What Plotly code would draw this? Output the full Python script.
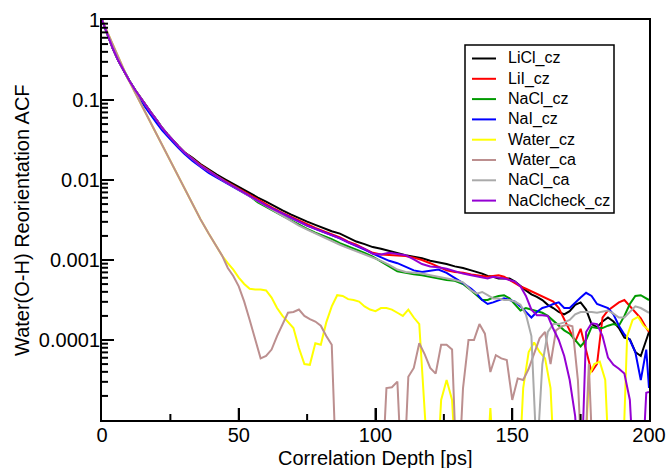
import plotly.graph_objects as go

# ---- time axes (ps) ----
time_ps = [0, 2, 4, 6, 8, 10, 12, 14, 16, 18, 20, 22, 24, 26, 28, 30,
           33, 36, 39, 42, 45, 48, 51, 54, 57, 60,
           63, 66, 69, 72, 75, 78, 81, 84, 87, 90,
           93, 96, 99, 102, 105, 108, 111, 114, 117, 120,
           123, 126, 129, 132, 135,
           137, 139, 141, 143, 145, 147, 149, 151, 153, 155,
           157, 159, 161, 163, 165, 167, 169, 171, 173, 175,
           177, 179, 181, 183, 185, 187, 189, 191, 193, 195,
           197, 199, 200]

water_time_ps = [0, 3, 6, 9, 12, 15, 18, 21, 24, 27, 30, 33, 36, 39, 42,
                 44, 46, 48, 50, 52, 54, 56, 58, 60, 62,
                 64, 66, 68, 70, 72, 74, 76, 78, 80, 82,
                 84, 86, 88, 90, 92, 94, 96, 98, 100, 102,
                 104, 106, 108, 110, 112, 114, 116, 118, 120, 122,
                 124, 126, 128, 130, 132, 134, 136, 138, 140, 142,
                 144, 146, 148, 150, 152, 154, 156, 158, 160, 162,
                 164, 166, 168, 170, 172, 174, 176, 178, 180, 182,
                 184, 186, 188, 190, 192, 194, 196, 198, 200]

# ---- ACF values (values < 1e-5 lie below the plotted range) ----
licl_cz = [1.0, 0.646, 0.437, 0.309, 0.229, 0.174, 0.135, 0.107, 0.0851, 0.0692, 0.0562, 0.0447, 0.0372, 0.0309, 0.0263, 0.0224,
           1.91e-2, 1.58e-2, 1.35e-2, 1.17e-2, 1.02e-2, 8.91e-3, 7.76e-3, 6.92e-3, 6.03e-3, 5.37e-3,
           4.68e-3, 4.17e-3, 3.72e-3, 3.39e-3, 3.02e-3, 2.75e-3, 2.51e-3, 2.29e-3, 2.14e-3, 1.91e-3,
           1.70e-3, 1.58e-3, 1.45e-3, 1.38e-3, 1.29e-3, 1.23e-3, 1.15e-3, 1.10e-3, 1.05e-3, 9.77e-4,
           9.33e-4, 8.91e-4, 8.32e-4, 7.94e-4, 7.41e-4,
           7.08e-4, 6.76e-4, 6.31e-4, 6.17e-4, 5.89e-4, 5.89e-4, 5.89e-4, 5.37e-4, 4.68e-4, 4.17e-4,
           3.72e-4, 3.47e-4, 3.16e-4, 2.75e-4, 2.51e-4, 2.24e-4, 2.09e-4, 2.29e-4, 2.75e-4, 2.95e-4,
           2.40e-4, 1.58e-4, 1.45e-4, 1.70e-4, 1.91e-4, 1.70e-4, 1.41e-4, 1.07e-4, 1.02e-4, 7.08e-5,
           6.31e-5, 1.05e-4, 1.26e-4]

lii_cz = [1.0, 0.646, 0.437, 0.309, 0.229, 0.174, 0.135, 0.107, 0.0851, 0.0692, 0.0562, 0.0447, 0.0372, 0.0309, 0.0263, 0.0224,
          1.86e-2, 1.55e-2, 1.32e-2, 1.12e-2, 9.77e-3, 8.51e-3, 7.41e-3, 6.46e-3, 5.62e-3, 4.90e-3,
          4.37e-3, 3.89e-3, 3.47e-3, 3.09e-3, 2.75e-3, 2.51e-3, 2.29e-3, 2.09e-3, 1.91e-3, 1.70e-3,
          1.55e-3, 1.38e-3, 1.23e-3, 1.17e-3, 1.15e-3, 1.15e-3, 1.12e-3, 1.07e-3, 1.00e-3, 9.12e-4,
          8.13e-4, 7.41e-4, 7.08e-4, 6.92e-4, 6.61e-4,
          6.46e-4, 6.31e-4, 6.17e-4, 6.31e-4, 6.46e-4, 6.17e-4, 5.62e-4, 5.25e-4, 4.68e-4, 4.37e-4,
          4.07e-4, 3.80e-4, 3.55e-4, 3.31e-4, 3.02e-4, 2.51e-4, 1.82e-4, 1.26e-4, 9.55e-5, 1.38e-4,
          7.59e-5, 3.98e-5, 5.01e-5, 1.91e-4, 2.34e-4, 2.63e-4, 2.95e-4, 3.16e-4, 2.63e-4, 2.24e-4,
          1.86e-4, 1.41e-4, 1.26e-4]

nacl_cz = [1.0, 0.646, 0.437, 0.309, 0.229, 0.174, 0.135, 0.107, 0.0851, 0.0692, 0.0562, 0.0447, 0.0372, 0.0309, 0.0263, 0.0224,
           1.82e-2, 1.51e-2, 1.29e-2, 1.10e-2, 9.55e-3, 8.32e-3, 7.24e-3, 6.31e-3, 5.25e-3, 4.57e-3,
           3.98e-3, 3.55e-3, 3.16e-3, 2.75e-3, 2.45e-3, 2.19e-3, 2.00e-3, 1.82e-3, 1.62e-3, 1.48e-3,
           1.35e-3, 1.23e-3, 1.10e-3, 9.55e-4, 8.32e-4, 7.24e-4, 6.92e-4, 6.61e-4, 6.46e-4, 6.17e-4,
           5.89e-4, 5.62e-4, 5.50e-4, 5.01e-4, 4.17e-4,
           3.63e-4, 3.16e-4, 3.16e-4, 3.39e-4, 3.55e-4, 3.63e-4, 3.31e-4, 2.75e-4, 2.34e-4, 2.51e-4,
           2.40e-4, 2.34e-4, 2.19e-4, 2.00e-4, 1.74e-4, 1.51e-4, 1.32e-4, 1.20e-4, 1.00e-4, 8.32e-5,
           1.00e-4, 1.45e-4, 1.41e-4, 1.41e-4, 1.51e-4, 1.58e-4, 1.51e-4, 2.00e-4, 2.82e-4, 3.55e-4,
           3.63e-4, 3.31e-4, 3.16e-4]

nai_cz = [1.0, 0.646, 0.437, 0.309, 0.229, 0.174, 0.135, 0.100, 0.0794, 0.0631, 0.0513, 0.0417, 0.0347, 0.0295, 0.0251, 0.0214,
          1.74e-2, 1.45e-2, 1.23e-2, 1.07e-2, 9.33e-3, 8.32e-3, 7.24e-3, 6.31e-3, 5.50e-3, 4.79e-3,
          4.27e-3, 3.80e-3, 3.39e-3, 3.02e-3, 2.69e-3, 2.45e-3, 2.24e-3, 2.04e-3, 1.86e-3, 1.66e-3,
          1.51e-3, 1.35e-3, 1.20e-3, 1.07e-3, 9.77e-4, 9.12e-4, 8.13e-4, 7.41e-4, 7.08e-4, 7.41e-4,
          7.59e-4, 6.92e-4, 6.03e-4, 5.13e-4, 4.37e-4,
          3.80e-4, 3.16e-4, 2.82e-4, 2.95e-4, 3.16e-4, 3.31e-4, 3.16e-4, 3.02e-4, 2.63e-4, 2.24e-4,
          1.91e-4, 2.24e-4, 2.51e-4, 2.63e-4, 2.82e-4, 2.95e-4, 2.51e-4, 2.51e-4, 2.95e-4, 3.39e-4,
          3.89e-4, 3.55e-4, 2.82e-4, 2.63e-4, 2.51e-4, 2.09e-4, 1.51e-4, 1.17e-4, 1.00e-4, 7.08e-5,
          3.16e-5, 7.59e-5, 2.51e-5]

nacl_ca = [1.0, 0.646, 0.437, 0.309, 0.229, 0.174, 0.135, 0.107, 0.0851, 0.0692, 0.0562, 0.0447, 0.0372, 0.0309, 0.0263, 0.0224,
           1.82e-2, 1.51e-2, 1.29e-2, 1.10e-2, 9.55e-3, 8.32e-3, 7.24e-3, 6.31e-3, 5.50e-3, 4.79e-3,
           4.17e-3, 3.55e-3, 3.09e-3, 2.69e-3, 2.40e-3, 2.14e-3, 1.91e-3, 1.70e-3, 1.55e-3, 1.41e-3,
           1.29e-3, 1.17e-3, 1.07e-3, 9.77e-4, 8.71e-4, 7.59e-4, 7.08e-4, 6.92e-4, 6.76e-4, 6.46e-4,
           6.17e-4, 5.89e-4, 5.62e-4, 5.25e-4, 4.17e-4,
           3.80e-4, 3.98e-4, 3.63e-4, 3.31e-4, 3.31e-4, 3.16e-4, 3.16e-4, 3.02e-4, 2.75e-4, 2.09e-4,
           1.12e-4, 3.16e-6, 5.01e-5, 1.26e-4, 1.58e-4, 1.58e-4, 1.66e-4, 1.78e-4, 2.09e-4, 2.24e-4,
           2.24e-4, 2.24e-4, 2.19e-4, 2.24e-4, 2.34e-4, 2.14e-4, 1.91e-4, 1.91e-4, 2.24e-4, 2.63e-4,
           2.51e-4, 2.29e-4, 2.19e-4]

naclcheck_cz = [1.0, 0.646, 0.437, 0.309, 0.229, 0.174, 0.135, 0.107, 0.0851, 0.0692, 0.0562, 0.0447, 0.0372, 0.0309, 0.0263, 0.0224,
                1.82e-2, 1.51e-2, 1.29e-2, 1.10e-2, 9.55e-3, 8.32e-3, 7.24e-3, 6.31e-3, 5.50e-3, 4.79e-3,
                4.27e-3, 3.80e-3, 3.39e-3, 3.02e-3, 2.69e-3, 2.45e-3, 2.24e-3, 2.04e-3, 1.86e-3, 1.66e-3,
                1.51e-3, 1.38e-3, 1.20e-3, 1.17e-3, 1.23e-3, 1.20e-3, 1.15e-3, 1.02e-3, 8.91e-4, 8.32e-4,
                8.13e-4, 7.76e-4, 7.24e-4, 6.76e-4, 6.46e-4,
                6.31e-4, 6.03e-4, 5.89e-4, 6.17e-4, 6.03e-4, 5.89e-4, 5.62e-4, 5.37e-4, 4.68e-4, 3.55e-4,
                2.40e-4, 2.04e-4, 2.04e-4, 2.00e-4, 1.38e-4, 1.00e-4, 6.31e-5, 3.16e-5, 1.12e-5, 1.0e-6,
                1.26e-4, 1.62e-4, 1.58e-4, 1.12e-4, 6.03e-5, 4.90e-5, 4.37e-5, 3.80e-5, 1.78e-5, 1.0e-6,
                1.0e-6, 2.19e-5, 2.24e-5]

water_cz = [1.0, 0.575, 0.331, 0.200, 0.126, 0.0794, 0.0501, 0.0316, 0.0200, 0.0126, 0.00794, 0.00501, 0.00324, 0.00214, 0.00145,
            1.12e-3, 9.12e-4, 7.59e-4, 6.03e-4, 5.01e-4, 4.37e-4, 4.27e-4, 4.27e-4, 4.17e-4, 3.39e-4,
            2.51e-4, 2.00e-4, 1.66e-4, 1.41e-4, 7.94e-5, 5.01e-5, 4.90e-5, 9.12e-5, 8.71e-5, 1.66e-4,
            2.63e-4, 3.63e-4, 3.55e-4, 3.24e-4, 3.16e-4, 3.02e-4, 2.63e-4, 2.40e-4, 2.29e-4, 2.51e-4,
            2.51e-4, 2.40e-4, 2.19e-4, 2.00e-4, 2.40e-4, 1.91e-4, 1.58e-4, 1.58e-5, 1.0e-6, 1.0e-6,
            1.78e-5, 3.16e-5, 1.78e-5, 1.0e-6, 1.0e-6, 1.0e-6, 1.0e-6, 1.0e-6, 1.0e-6, 1.41e-5,
            1.0e-6, 1.0e-6, 1.0e-6, 1.0e-6, 1.0e-6, 2.51e-5, 7.08e-5, 9.33e-5, 7.08e-5, 5.89e-5,
            2.51e-5, 1.0e-6, 1.0e-6, 1.0e-6, 1.0e-6, 1.0e-6, 1.0e-6, 3.55e-5, 5.01e-5, 5.37e-5,
            3.16e-5, 1.0e-6, 1.0e-6, 1.0e-6, 1.12e-4, 1.78e-4, 1.95e-4, 1.51e-4, 1.32e-4]

water_ca = [1.0, 0.575, 0.331, 0.200, 0.126, 0.0794, 0.0501, 0.0316, 0.0200, 0.0126, 0.00794, 0.00501, 0.00324, 0.00214, 0.00145,
            1.12e-3, 7.94e-4, 6.31e-4, 4.68e-4, 3.02e-4, 1.78e-4, 1.05e-4, 5.89e-5, 6.31e-5, 7.59e-5,
            1.12e-4, 1.58e-4, 2.19e-4, 2.24e-4, 2.40e-4, 2.00e-4, 1.82e-4, 1.70e-4, 1.51e-4, 1.12e-4,
            8.71e-5, 1.0e-6, 1.0e-6, 1.0e-6, 1.0e-6, 1.0e-6, 1.0e-6, 1.0e-6, 1.0e-6, 1.0e-6,
            2.51e-5, 2.57e-5, 3.02e-5, 1.0e-6, 3.47e-5, 4.47e-5, 9.12e-5, 6.61e-5, 4.47e-5, 3.80e-5,
            8.71e-5, 8.71e-5, 7.59e-5, 1.0e-6, 2.51e-5, 1.00e-4, 1.00e-4, 1.58e-4, 1.20e-4, 3.98e-5,
            6.46e-5, 5.89e-5, 5.62e-5, 1.78e-5, 3.31e-5, 3.16e-5, 4.37e-5, 6.61e-5, 1.05e-4, 1.26e-4,
            5.01e-5, 1.32e-4, 1.48e-4, 1.55e-4, 1.48e-4, 3.16e-5, 1.0e-6, 5.01e-5, 1.0e-6, 1.0e-6,
            1.0e-6, 1.0e-6, 1.0e-6, 1.0e-6, 1.0e-6, 1.0e-6, 1.0e-6, 1.0e-6, 1.0e-6]

series_names = ["LiCl_cz", "LiI_cz", "NaCl_cz", "NaI_cz", "Water_cz", "Water_ca", "NaCl_ca", "NaClcheck_cz"]
series_x = [time_ps, time_ps, time_ps, time_ps, water_time_ps, water_time_ps, time_ps, time_ps]
series_y = [licl_cz, lii_cz, nacl_cz, nai_cz, water_cz, water_ca, nacl_ca, naclcheck_cz]
series_colors = ["#000000", "#ff0000", "#009a00", "#0000ff", "#ffff00", "#bc8f8f", "#aaaaaa", "#9400d3"]

x_ticks = [0, 50, 100, 150, 200]
x_minor_ticks = [25, 75, 125, 175]
y_ticks = [1, 0.1, 0.01, 0.001, 0.0001]
y_tick_text = ["1", "0.1", "0.01", "0.001", "0.0001"]
Y_LOG_MIN, Y_LOG_MAX = -5, 0
X_MIN, X_MAX = 0, 200

FONT = "Liberation Sans, Arial, Helvetica, sans-serif"

# plot-area geometry in pixels
W, H = 670, 468
ML, MR, MT, MB = 102, 21, 20, 48
PW, PH = W - ML - MR, H - MT - MB


def px_x(px):
    return (px - ML) / PW


def px_y(py):
    return 1 - (py - MT) / PH


fig = go.Figure()
for name, x, y, color in zip(series_names, series_x, series_y, series_colors):
    fig.add_trace(go.Scatter(x=x, y=y, name=name, mode="lines", showlegend=False,
                             line=dict(color=color, width=2)))

# inward tick marks (major 12 px, minor 6 px) drawn through the axes' scales
y_bottom = 10.0 ** Y_LOG_MIN
decade_px = PH / (Y_LOG_MAX - Y_LOG_MIN)
x_per_px = (X_MAX - X_MIN) / PW
tick_x, tick_y = [], []
for v in x_ticks[1:-1]:
    tick_x += [v, v, None]
    tick_y += [y_bottom, y_bottom * 10.0 ** (12 / decade_px), None]
for v in x_minor_ticks:
    tick_x += [v, v, None]
    tick_y += [y_bottom, y_bottom * 10.0 ** (6 / decade_px), None]
for v in y_ticks[1:]:
    tick_x += [X_MIN, X_MIN + 12 * x_per_px, None]
    tick_y += [v, v, None]
for e in range(Y_LOG_MIN, Y_LOG_MAX):
    for m in range(2, 10):
        tick_x += [X_MIN, X_MIN + 6 * x_per_px, None]
        tick_y += [m * 10.0 ** e, m * 10.0 ** e, None]
fig.add_trace(go.Scatter(x=tick_x, y=tick_y, mode="lines", showlegend=False,
                         hoverinfo="skip", line=dict(color="black", width=2)))

# legend drawn like the original (box, short line samples, labels)
shapes = [dict(type="rect", xref="paper", yref="paper",
               x0=px_x(465), x1=px_x(614), y0=px_y(213), y1=px_y(45),
               line=dict(color="black", width=1.5), fillcolor="white", layer="above")]
annotations = []
for i, (name, color) in enumerate(zip(series_names, series_colors)):
    cy = 58.5 + i * 20.3
    shapes.append(dict(type="line", xref="paper", yref="paper",
                       x0=px_x(472), x1=px_x(496), y0=px_y(cy), y1=px_y(cy),
                       line=dict(color=color, width=2), layer="above"))
    annotations.append(dict(xref="paper", yref="paper", x=px_x(506), y=px_y(cy),
                            xanchor="left", yanchor="middle", showarrow=False,
                            text=name, font=dict(family=FONT, size=16, color="black")))

# axis titles
annotations.append(dict(xref="paper", yref="paper", x=px_x(375.5), y=px_y(458),
                        xanchor="center", yanchor="middle", showarrow=False,
                        text="Correlation Depth [ps]",
                        font=dict(family=FONT, size=20, color="black")))
annotations.append(dict(xref="paper", yref="paper", x=px_x(22), y=px_y(220),
                        xanchor="center", yanchor="middle", showarrow=False, textangle=-90,
                        text="Water(O-H) Reorientation ACF",
                        font=dict(family=FONT, size=20, color="black")))

fig.update_layout(
    width=W, height=H,
    margin=dict(l=ML, r=MR, t=MT, b=MB),
    paper_bgcolor="white", plot_bgcolor="white",
    font=dict(family=FONT, size=20, color="black"),
    showlegend=False,
    shapes=shapes, annotations=annotations,
    xaxis=dict(range=[X_MIN, X_MAX], tickmode="array", tickvals=x_ticks,
               ticks="inside", ticklen=12, tickwidth=2, tickcolor="black",
               ticklabelstandoff=-4, automargin=False,
               showline=True, linecolor="black", linewidth=2, mirror=True,
               showgrid=False, zeroline=False,
               tickfont=dict(family=FONT, size=20)),
    yaxis=dict(type="log", range=[Y_LOG_MIN, Y_LOG_MAX], tickmode="array",
               tickvals=y_ticks, ticktext=y_tick_text,
               ticks="inside", ticklen=12, tickwidth=2, tickcolor="black",
               ticklabelstandoff=-4, automargin=False,
               showline=True, linecolor="black", linewidth=2, mirror=True,
               showgrid=False, zeroline=False,
               tickfont=dict(family=FONT, size=20)),
)

fig.write_html("out.html")
